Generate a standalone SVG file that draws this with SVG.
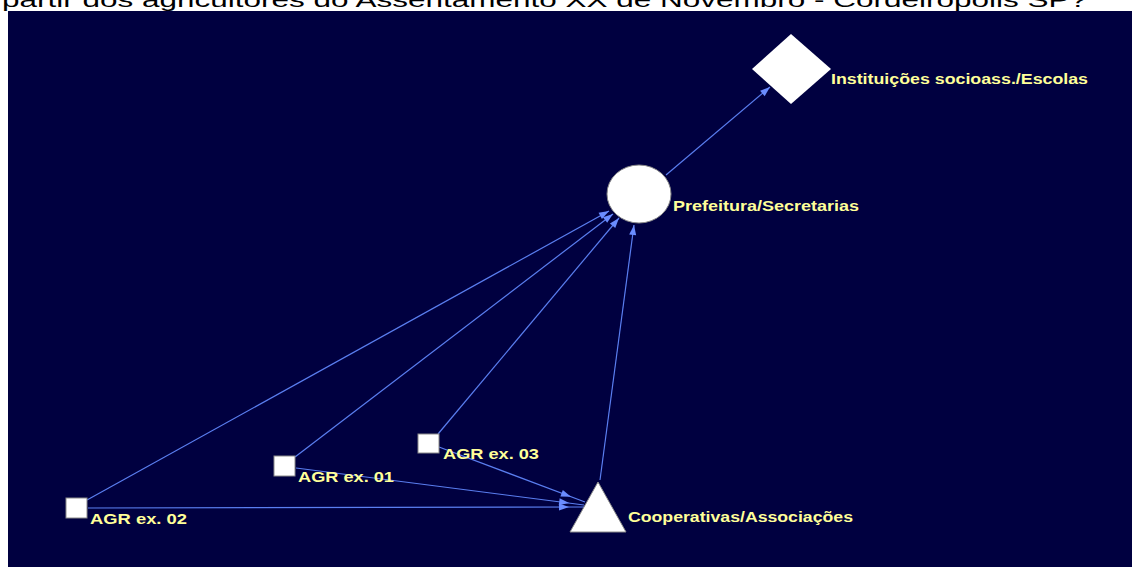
<svg xmlns="http://www.w3.org/2000/svg" width="1132" height="567" viewBox="0 0 1132 567">
  <style>
    .bg { fill: #000040; }
    .node { fill: #ffffff; stroke: #8a8a8a; stroke-width: 1; }
    .lbl { font-family: "Liberation Sans", Arial, sans-serif; font-size: 14px; font-weight: bold; fill: #ffff99; }
    .title { font-family: "Liberation Sans", Arial, sans-serif; font-size: 20px; fill: #000000; }
    .edge { stroke: #5a7ef0; stroke-width: 1.2; fill: none; }
  </style>
  <defs>
    <marker id="arr" markerUnits="userSpaceOnUse" markerWidth="12" markerHeight="8" refX="10" refY="3.5" orient="auto" overflow="visible">
      <path d="M0,0 L10,3.5 L0,7 z" fill="#6a8cff"/>
    </marker>
    <marker id="arrOff" markerUnits="userSpaceOnUse" markerWidth="12" markerHeight="8" refX="25" refY="3.5" orient="auto" overflow="visible">
      <path d="M0,0 L10,3.5 L0,7 z" fill="#6a8cff"/>
    </marker>
  </defs>
  <rect x="0" y="0" width="1132" height="567" fill="#ffffff"/>
  <text class="title" x="2" y="7" textLength="1085" lengthAdjust="spacingAndGlyphs">partir dos agricultores do Assentamento XX de Novembro - Cordeirópolis SP?</text>
  <rect class="bg" x="8" y="11" width="1124" height="556"/>

  <g id="connectors">
    <line class="edge" x1="666" y1="175" x2="770" y2="87" marker-end="url(#arr)"/>
    <line class="edge" x1="87" y1="500" x2="609" y2="211" marker-end="url(#arr)"/>
    <line class="edge" x1="295" y1="457" x2="613" y2="214" marker-end="url(#arr)"/>
    <line class="edge" x1="438" y1="434" x2="619" y2="218" marker-end="url(#arr)"/>
    <line class="edge" x1="600" y1="480" x2="634" y2="225" marker-end="url(#arr)"/>
    <line class="edge" x1="88" y1="508" x2="584" y2="507" marker-end="url(#arrOff)"/>
    <line class="edge" x1="296" y1="468" x2="584" y2="505" marker-end="url(#arrOff)"/>
    <line class="edge" x1="439" y1="447" x2="585" y2="502" marker-end="url(#arrOff)"/>
  </g>

  <g id="node-instituicoes">
    <polygon points="791,34 831,69 791,104 752,69" fill="#ffffff"/>
    <text class="lbl" x="831" y="84" textLength="257" lengthAdjust="spacingAndGlyphs">Instituições socioass./Escolas</text>
  </g>
  <g id="node-prefeitura">
    <ellipse class="node" cx="639" cy="194" rx="32" ry="29"/>
    <text class="lbl" x="673" y="211" textLength="186" lengthAdjust="spacingAndGlyphs">Prefeitura/Secretarias</text>
  </g>
  <g id="node-cooperativas">
    <polygon class="node" points="598,482 626,532 570,532"/>
    <text class="lbl" x="628" y="522" textLength="225" lengthAdjust="spacingAndGlyphs">Cooperativas/Associações</text>
  </g>
  <g id="node-agr03">
    <rect class="node" x="418" y="434" width="21" height="19"/>
    <text class="lbl" x="443" y="459" textLength="96" lengthAdjust="spacingAndGlyphs">AGR ex. 03</text>
  </g>
  <g id="node-agr01">
    <rect class="node" x="274" y="456" width="21" height="20"/>
    <text class="lbl" x="298" y="482" textLength="96" lengthAdjust="spacingAndGlyphs">AGR ex. 01</text>
  </g>
  <g id="node-agr02">
    <rect class="node" x="66" y="498" width="21" height="20"/>
    <text class="lbl" x="90" y="524" textLength="97" lengthAdjust="spacingAndGlyphs">AGR ex. 02</text>
  </g>
</svg>
